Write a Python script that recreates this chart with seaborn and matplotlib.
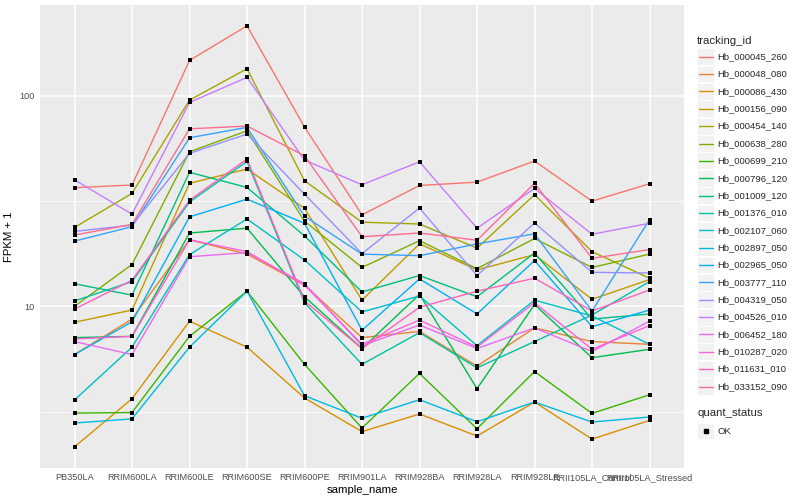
# recreate the FPKM profile chart (ggplot look) with seaborn
import pandas as pd
import numpy as np
import matplotlib
matplotlib.use("Agg")
import matplotlib.pyplot as plt
from matplotlib.patches import Rectangle
from matplotlib.ticker import FixedLocator, NullFormatter
import seaborn as sns

# sample names on the x axis
samples = ["PB350LA", "RRIM600LA", "RRIM600LE", "RRIM600SE", "RRIM600PE",
           "RRIM901LA", "RRIM928BA", "RRIM928LA", "RRIM928LE",
           "RRII105LA_Control", "RRII105LA_Stressed"]

# FPKM + 1 per gene, one value per sample
hb_000045_260 = [36.6, 37.7, 147.3, 214.9, 71.0, 27.2, 37.5, 38.9, 49.0, 31.6, 38.2]
hb_000048_080 = [5.9, 8.7, 20.7, 17.7, 12.6, 7.1, 7.6, 5.2, 7.9, 6.8, 6.6]
hb_000086_430 = [2.15, 3.64, 8.5, 6.4, 3.67, 2.54, 3.08, 2.42, 3.51, 2.34, 2.87]
hb_000156_090 = [8.4, 9.6, 38.4, 44.9, 29.2, 10.7, 19.8, 14.9, 17.6, 10.8, 13.4]
hb_000454_140 = [23.7, 34.4, 95.4, 134.4, 39.5, 25.1, 24.6, 18.9, 33.9, 18.2, 13.6]
hb_000638_280 = [10.0, 15.8, 54.2, 68.2, 25.4, 15.3, 20.5, 15.1, 21.0, 15.3, 17.7]
hb_000699_210 = [3.11, 3.13, 7.2, 11.8, 5.3, 2.64, 4.8, 2.62, 4.9, 3.1, 3.8]
hb_000796_120 = [7.1, 7.2, 22.3, 23.5, 11.1, 6.3, 11.4, 4.06, 10.2, 5.7, 6.25]
hb_001009_120 = [12.8, 11.3, 43.3, 36.7, 21.6, 11.7, 14.0, 11.1, 17.9, 8.7, 9.2]
hb_001376_010 = [10.6, 13.1, 31.3, 48.8, 10.4, 5.3, 7.5, 5.1, 6.8, 9.1, 13.1]
hb_002107_060 = [3.59, 6.4, 17.6, 26.0, 16.6, 9.4, 11.2, 6.5, 10.7, 9.0, 6.6]
hb_002897_050 = [2.79, 2.92, 6.4, 11.8, 3.76, 2.94, 3.6, 2.83, 3.51, 2.82, 2.98]
hb_002965_050 = [5.9, 8.45, 26.6, 32.3, 24.8, 7.7, 13.5, 9.2, 16.5, 8.0, 9.6]
hb_003777_110 = [20.4, 23.9, 63.2, 70.8, 26.8, 17.7, 17.4, 19.8, 22.1, 9.5, 25.8]
hb_004319_050 = [22.7, 24.3, 53.3, 65.8, 34.1, 17.8, 29.3, 14.0, 24.9, 14.5, 14.4]
hb_004526_010 = [39.9, 27.4, 93.0, 122.3, 49.5, 37.8, 48.6, 23.5, 36.3, 22.0, 24.8]
hb_006452_180 = [6.8, 5.9, 17.2, 18.0, 12.8, 6.5, 8.15, 6.3, 7.9, 6.1, 8.5]
hb_010287_020 = [7.0, 7.2, 20.7, 18.2, 12.6, 6.6, 8.6, 6.4, 10.4, 6.25, 8.1]
hb_011631_010 = [9.7, 13.3, 31.9, 50.1, 10.6, 6.3, 9.9, 11.8, 13.6, 9.5, 11.95]
hb_033152_090 = [21.8, 24.5, 69.7, 71.8, 51.9, 21.4, 22.3, 20.6, 38.4, 16.9, 18.6]

tracking_ids = ["Hb_000045_260", "Hb_000048_080", "Hb_000086_430", "Hb_000156_090",
                "Hb_000454_140", "Hb_000638_280", "Hb_000699_210", "Hb_000796_120",
                "Hb_001009_120", "Hb_001376_010", "Hb_002107_060", "Hb_002897_050",
                "Hb_002965_050", "Hb_003777_110", "Hb_004319_050", "Hb_004526_010",
                "Hb_006452_180", "Hb_010287_020", "Hb_011631_010", "Hb_033152_090"]
series = [hb_000045_260, hb_000048_080, hb_000086_430, hb_000156_090,
          hb_000454_140, hb_000638_280, hb_000699_210, hb_000796_120,
          hb_001009_120, hb_001376_010, hb_002107_060, hb_002897_050,
          hb_002965_050, hb_003777_110, hb_004319_050, hb_004526_010,
          hb_006452_180, hb_010287_020, hb_011631_010, hb_033152_090]

# ggplot default hue palette for 20 levels
colors = ["#F8766D", "#EA8331", "#D89000", "#C09B00", "#A3A500", "#7CAE00",
          "#39B600", "#00BB4E", "#00BF7D", "#00C1A3", "#00BFC4", "#00BAE0",
          "#00B0F6", "#35A2FF", "#9590FF", "#C77CFF", "#E76BF3", "#FA62DB",
          "#FF62BC", "#FF6C91"]

# long form table
rows = []
for tid, vals in zip(tracking_ids, series):
    for s, v in zip(samples, vals):
        rows.append({"tracking_id": tid, "sample_name": s, "fpkm": v, "quant_status": "OK"})
df = pd.DataFrame(rows)
df["sample_name"] = pd.Categorical(df["sample_name"], categories=samples)

sns.set_theme(style="darkgrid", rc={"axes.facecolor": "#EBEBEB", "grid.color": "white"})
plt.rcParams["font.family"] = ["Liberation Sans Narrow", "Liberation Sans", "DejaVu Sans"]

fig = plt.figure(figsize=(8, 5), dpi=100)
ax = fig.add_axes([40 / 800, 32 / 500, 644 / 800, 463 / 500])

sns.lineplot(data=df, x="sample_name", y="fpkm", hue="tracking_id", hue_order=tracking_ids,
             palette=colors, estimator=None, linewidth=1.0, legend=False, ax=ax)
sns.scatterplot(data=df, x="sample_name", y="fpkm", color="black", marker="s", s=6,
                linewidth=0, legend=False, ax=ax, zorder=3)

# log scale y like scale_y_log10
ax.set_yscale("log")
ax.set_ylim(1.706, 270)
ax.set_xlim(-0.6, 10.6)
ax.yaxis.set_major_locator(FixedLocator([10, 100]))
ax.set_yticklabels(["10", "100"])
ax.yaxis.set_minor_locator(FixedLocator([10 ** 0.5, 10 ** 1.5]))
ax.yaxis.set_minor_formatter(NullFormatter())
ax.grid(which="major", color="white", linewidth=1.1)
ax.grid(which="minor", axis="y", color="white", linewidth=0.55)
ax.tick_params(which="major", length=2.2, width=0.8, color="#333333", pad=1.5,
               labelsize=6.6, labelcolor="#4D4D4D")
ax.tick_params(which="minor", length=0)
for sp in ax.spines.values():
    sp.set_visible(False)
ax.set_xlabel("sample_name", fontsize=8.2, color="black", labelpad=2)
ax.set_ylabel("FPKM + 1", fontsize=8.2, color="black", labelpad=4)

# legend drawn in pixel coordinates on an overlay
lax = fig.add_axes([0, 0, 1, 1])
lax.set_xlim(0, 800)
lax.set_ylim(500, 0)
lax.axis("off")
lax.patch.set_alpha(0)
lax.text(697, 40.5, "tracking_id", fontsize=8.2, va="center", ha="left")
for i, (tid, c) in enumerate(zip(tracking_ids, colors)):
    yc = 56.7 + 17.36 * i
    lax.add_patch(Rectangle((697, yc - 8.4), 17, 16.8, facecolor="#F2F2F2", edgecolor="white", lw=0.6))
    lax.plot([698.5, 712.5], [yc, yc], color=c, lw=1.0)
    lax.text(717, yc, tid, fontsize=6.8, va="center", ha="left")
lax.text(697, 412.7, "quant_status", fontsize=8.2, va="center", ha="left")
lax.add_patch(Rectangle((697, 422.5), 17, 16.8, facecolor="#F2F2F2", edgecolor="white", lw=0.6))
lax.plot([705.5], [431], marker="s", color="black", ms=2.4, lw=0)
lax.text(717, 431, "OK", fontsize=6.8, va="center", ha="left")

fig.savefig("out.png", dpi=100, facecolor="white")
